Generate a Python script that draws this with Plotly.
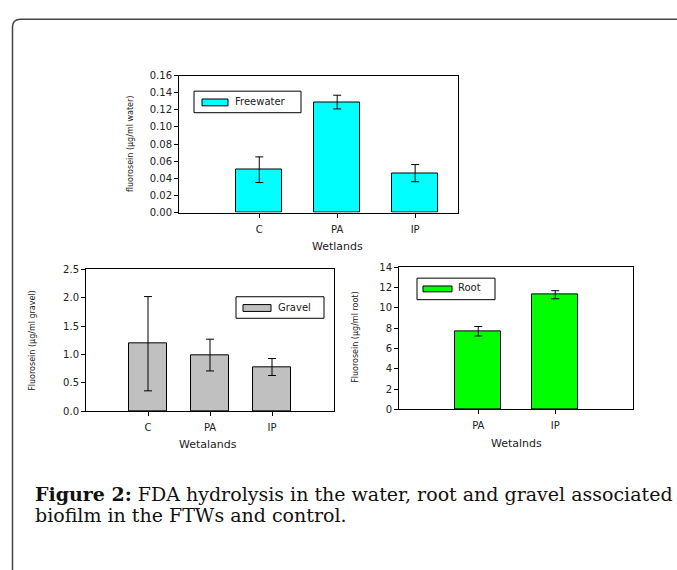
import plotly.graph_objects as go

W, H = 677, 570

# ---- data ----
water_cats = ["C", "PA", "IP"]
water_vals = [0.050, 0.129, 0.046]
water_err = [0.015, 0.008, 0.010]

gravel_cats = ["C", "PA", "IP"]
gravel_vals = [1.19, 0.99, 0.78]
gravel_err = [0.83, 0.28, 0.15]

root_cats = ["PA", "IP"]
root_vals = [7.70, 11.30]
root_err = [0.47, 0.40]

water_ticks = [0, 0.02, 0.04, 0.06, 0.08, 0.10, 0.12, 0.14, 0.16]
gravel_ticks = [0.0, 0.5, 1.0, 1.5, 2.0, 2.5]
root_ticks = [0, 2, 4, 6, 8, 10, 12, 14]


def px(x):
    return x / W


def py(y):
    return 1 - y / H


TICKFONT = dict(family="DejaVu Sans", size=10, color="#222222")
TITLEFONT = dict(family="DejaVu Sans", size=11, color="#222222")
YTITLEFONT = dict(family="DejaVu Sans", size=8, color="#222222")

fig = go.Figure()

fig.add_trace(go.Bar(
    x=water_cats, y=water_vals, width=0.59,
    marker=dict(color="#00FFFF", line=dict(color="black", width=1)),
    error_y=dict(type="data", array=water_err, color="black", thickness=1, width=4),
    xaxis="x", yaxis="y", showlegend=False, name="Freewater"))

fig.add_trace(go.Bar(
    x=gravel_cats, y=gravel_vals, width=0.61,
    marker=dict(color="#C0C0C0", line=dict(color="black", width=1)),
    error_y=dict(type="data", array=gravel_err, color="black", thickness=1, width=4),
    xaxis="x2", yaxis="y2", showlegend=False, name="Gravel"))

fig.add_trace(go.Bar(
    x=root_cats, y=root_vals, width=0.60,
    marker=dict(color="#00FF00", line=dict(color="black", width=1)),
    error_y=dict(type="data", array=root_err, color="black", thickness=1, width=4),
    xaxis="x3", yaxis="y3", showlegend=False, name="Root"))


def xax(dom, rng, anchor):
    return dict(domain=dom, range=rng, anchor=anchor, type="category",
                showline=True, linecolor="black", linewidth=1, mirror=True,
                ticks="outside", ticklen=4, tickcolor="black",
                showgrid=False, zeroline=False, tickfont=TICKFONT,
                ticklabelstandoff=3)


def yax(dom, rng, anchor, tickvals, fmt):
    return dict(domain=dom, range=rng, anchor=anchor,
                tickmode="array", tickvals=tickvals, tickformat=fmt,
                showline=True, linecolor="black", linewidth=1, mirror=True,
                ticks="outside", ticklen=4, tickcolor="black",
                showgrid=False, zeroline=False, tickfont=TICKFONT)


fig.update_layout(
    width=W, height=H,
    margin=dict(l=0, r=0, t=0, b=0),
    paper_bgcolor="white", plot_bgcolor="white",
    bargap=0,
    xaxis=xax([px(179), px(458)], [-1.03, 2.55], "y"),
    yaxis=yax([py(211), py(71)], [0, 0.16], "x", water_ticks, ".2f"),
    xaxis2=xax([px(86), px(334)], [-1.0, 3.0], "y2"),
    yaxis2=yax([py(414), py(269)], [0, 2.5], "x2", gravel_ticks, ".1f"),
    xaxis3=xax([px(399), px(633)], [-1.03, 2.01], "y3"),
    yaxis3=yax([py(412), py(267)], [0, 14], "x3", root_ticks, "d"),
)

shapes = []
annotations = []

# outer rounded frame
r = 8
x0, y0 = 12.5, 13.5
path = (f"M {px(700)},{py(y0)} L {px(x0 + r)},{py(y0)} "
        f"Q {px(x0)},{py(y0)} {px(x0)},{py(y0 + r)} L {px(x0)},{py(600)}")
shapes.append(dict(type="path", path=path, xref="paper", yref="paper",
                   line=dict(color="#444444", width=1.5)))


def legend(box, swatch, color, text, tx, ty):
    shapes.append(dict(type="rect", xref="paper", yref="paper",
                       x0=px(box[0]), x1=px(box[1]), y0=py(box[3]), y1=py(box[2]),
                       line=dict(color="black", width=1), fillcolor="white"))
    shapes.append(dict(type="rect", xref="paper", yref="paper",
                       x0=px(swatch[0]), x1=px(swatch[1]), y0=py(swatch[3]), y1=py(swatch[2]),
                       line=dict(color="black", width=1), fillcolor=color))
    annotations.append(dict(text=text, x=px(tx), y=py(ty), xref="paper", yref="paper",
                            xanchor="left", yanchor="middle", showarrow=False,
                            font=dict(family="DejaVu Sans", size=10, color="#222222")))


legend((194, 301, 87, 109), (202, 228, 95, 102), "#00FFFF", "Freewater", 233, 98)
legend((236, 324, 297, 319), (243, 271, 305, 312), "#C0C0C0", "Gravel", 276, 308)
legend((417, 495, 278, 300), (423, 452, 286, 292), "#00FF00", "Root", 456, 288)

# axis titles
def xtitle(text, x, y):
    annotations.append(dict(text=text, x=px(x), y=py(y), xref="paper", yref="paper",
                            xanchor="center", yanchor="middle", showarrow=False,
                            font=TITLEFONT))


def ytitle(text, x, y):
    annotations.append(dict(text=text, x=px(x), y=py(y), xref="paper", yref="paper",
                            xanchor="center", yanchor="middle", showarrow=False,
                            textangle=-90, font=YTITLEFONT))


xtitle("Wetlands", 337, 246)
xtitle("Wetalands", 208, 448)
xtitle("Wetalnds", 516, 447)
ytitle("fluorosein (µg/ml water)", 130, 141)
ytitle("Fluorosein (µg/ml gravel)", 33, 342)
ytitle("Fluorosein (µg/ml root)", 356, 339)

# caption
CAP = dict(family="DejaVu Serif", size=19, color="#111111")
annotations.append(dict(
    text="<b>Figure 2:</b> FDA hydrolysis in the water, root and gravel associated",
    x=px(33), y=py(499), xref="paper", yref="paper", xanchor="left", yanchor="middle",
    showarrow=False, font=CAP))
annotations.append(dict(
    text="biofilm in the FTWs and control.",
    x=px(33), y=py(520), xref="paper", yref="paper", xanchor="left", yanchor="middle",
    showarrow=False, font=CAP))

fig.update_layout(shapes=shapes, annotations=annotations)

fig.write_html(
    "out.html",
    config={"displayModeBar": False},
    post_script="document.body.style.margin='0';document.body.style.overflow='hidden';",
)
